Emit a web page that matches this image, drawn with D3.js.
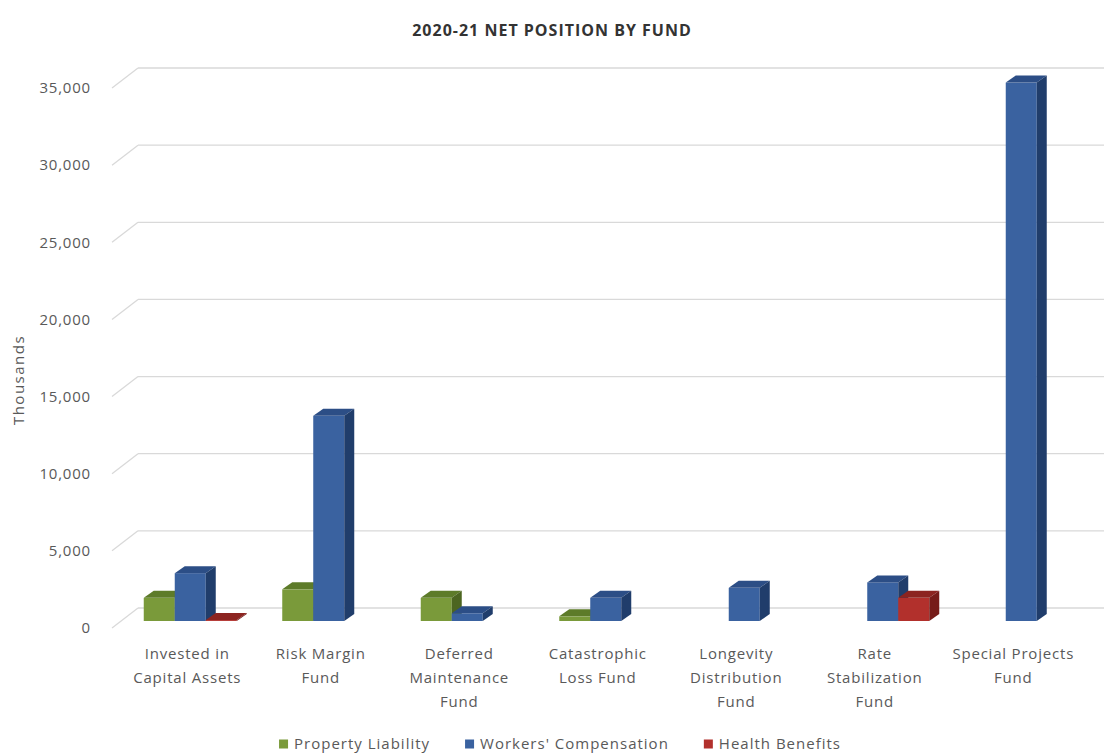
<!DOCTYPE html>
<html>
<head>
<meta charset="utf-8">
<script src="https://cdn.jsdelivr.net/npm/d3@7"></script>
<style>
  body { margin: 0; background: #fff; }
  svg { display: block; font-family: "Open Sans", sans-serif; }
</style>
</head>
<body>
<svg id="chart" width="1104" height="756"></svg>
<script>
// data (thousands)
var funds = [
  ["Invested in", "Capital Assets"],
  ["Risk Margin", "Fund"],
  ["Deferred", "Maintenance", "Fund"],
  ["Catastrophic", "Loss Fund"],
  ["Longevity", "Distribution", "Fund"],
  ["Rate", "Stabilization", "Fund"],
  ["Special Projects", "Fund"]
];
var seriesNames = ["Property Liability", "Workers' Compensation", "Health Benefits"];
var propertyLiability   = [1500, 2050, 1500, 300, null, null, null];
var workersComp         = [3100, 13300, 500, 1500, 2150, 2500, 34900];
var healthBenefits      = [60, null, null, null, null, 1500, null];
var yTicks = [0, 5000, 10000, 15000, 20000, 25000, 30000, 35000];

var seriesValues = [propertyLiability, workersComp, healthBenefits];
var colors = [
  { front: "#7a9a3a", top: "#5d7b29", side: "#4c6521" },
  { front: "#3a62a0", top: "#2c4e86", side: "#203d6b" },
  { front: "#b2302c", top: "#8c2420", side: "#761c19" }
];

var svg = d3.select("#chart");

// 3d offsets
var wall = { dx: 26, dy: -20 };   // front plane -> back wall
var barFront = { dx: 9, dy: -7 }; // front plane -> bar front face
var barDepth = { dx: 10, dy: -7 };

var y = d3.scaleLinear().domain([0, 35000]).range([628, 88]);
var x0 = d3.scaleBand().domain(d3.range(funds.length)).range([112, 1081.5]);
var x1 = d3.scaleBand().domain(d3.range(seriesNames.length))
  .range([22.75, x0.bandwidth() - 22.75]);

// title
svg.append("text")
  .attr("x", 552).attr("y", 36)
  .attr("text-anchor", "middle")
  .attr("font-size", 16).attr("font-weight", "bold")
  .attr("letter-spacing", 1)
  .attr("fill", "#333")
  .text("2020-21 NET POSITION BY FUND");

// back wall grid + left diagonal
var grid = svg.append("g");
grid.selectAll("line.back").data(yTicks).enter().append("line")
  .attr("x1", 112 + wall.dx).attr("x2", 1081.5 + wall.dx)
  .attr("y1", function (d) { return y(d) + wall.dy; })
  .attr("y2", function (d) { return y(d) + wall.dy; })
  .attr("stroke", "#d9d9d9").attr("stroke-width", 1.3);
grid.selectAll("line.diag").data(yTicks).enter().append("line")
  .attr("x1", 112).attr("x2", 112 + wall.dx)
  .attr("y1", function (d) { return y(d); })
  .attr("y2", function (d) { return y(d) + wall.dy; })
  .attr("stroke", "#d9d9d9").attr("stroke-width", 1.3);

// y labels
svg.append("g").selectAll("text").data(yTicks).enter().append("text")
  .attr("x", 91)
  .attr("y", function (d) { return y(d); })
  .attr("dy", "0.35em")
  .attr("text-anchor", "end")
  .attr("font-size", 15)
  .attr("letter-spacing", 0.8)
  .attr("fill", "#595959")
  .text(function (d) { return d3.format(",")(d); });

svg.append("text")
  .attr("transform", "translate(24,380) rotate(-90)")
  .attr("text-anchor", "middle")
  .attr("font-size", 15)
  .attr("letter-spacing", 1.5)
  .attr("fill", "#595959")
  .text("Thousands");

// bars
var barsG = svg.append("g");
funds.forEach(function (f, i) {
  seriesValues.forEach(function (vals, s) {
    var v = vals[i];
    if (v == null) return;
    var bx = x0(i) + x1(s) + barFront.dx;
    var w = x1.bandwidth();
    var yb = y(0) + barFront.dy;
    var yt = y(v) + barFront.dy;
    var c = colors[s];
    var dx = barDepth.dx, dy = barDepth.dy;
    var g = barsG.append("g");
    g.append("rect")
      .attr("x", bx).attr("y", yt).attr("width", w).attr("height", Math.max(0, yb - yt))
      .attr("fill", c.front);
    g.append("path")
      .attr("d", "M" + bx + "," + yt + "L" + (bx + dx) + "," + (yt + dy) +
        "L" + (bx + w + dx) + "," + (yt + dy) + "L" + (bx + w) + "," + yt + "Z")
      .attr("fill", c.top);
    g.append("path")
      .attr("d", "M" + (bx + w) + "," + yt + "L" + (bx + w + dx) + "," + (yt + dy) +
        "L" + (bx + w + dx) + "," + (yb + dy) + "L" + (bx + w) + "," + yb + "Z")
      .attr("fill", c.side);
  });
});

// category labels
var cat = svg.append("g");
funds.forEach(function (lines, i) {
  var cx = x0(i) + x0.bandwidth() / 2 + (i === 0 ? 6 : 1);
  var t = cat.append("text")
    .attr("x", cx)
    .attr("y", 659)
    .attr("text-anchor", "middle")
    .attr("font-size", 15)
    .attr("letter-spacing", 0.8)
    .attr("fill", "#595959");
  lines.forEach(function (ln, j) {
    t.append("tspan")
      .attr("x", cx)
      .attr("dy", j === 0 ? 0 : 24)
      .text(ln);
  });
});

// legend
var leg = svg.append("g");
var lx = 0;
seriesNames.forEach(function (name, s) {
  var it = leg.append("g").attr("transform", "translate(" + lx + ",0)");
  it.append("rect").attr("x", 0).attr("y", -4.5).attr("width", 9).attr("height", 9)
    .attr("fill", colors[s].front);
  var tx = it.append("text").attr("x", 15).attr("y", 0).attr("dy", "0.35em")
    .attr("font-size", 15).attr("letter-spacing", 1)
    .attr("fill", "#595959").text(name);
  lx += 15 + tx.node().getComputedTextLength() + 35;
});
var legW = lx - 35;
leg.attr("transform", "translate(" + (560 - legW / 2) + ",744)");
</script>
</body>
</html>
